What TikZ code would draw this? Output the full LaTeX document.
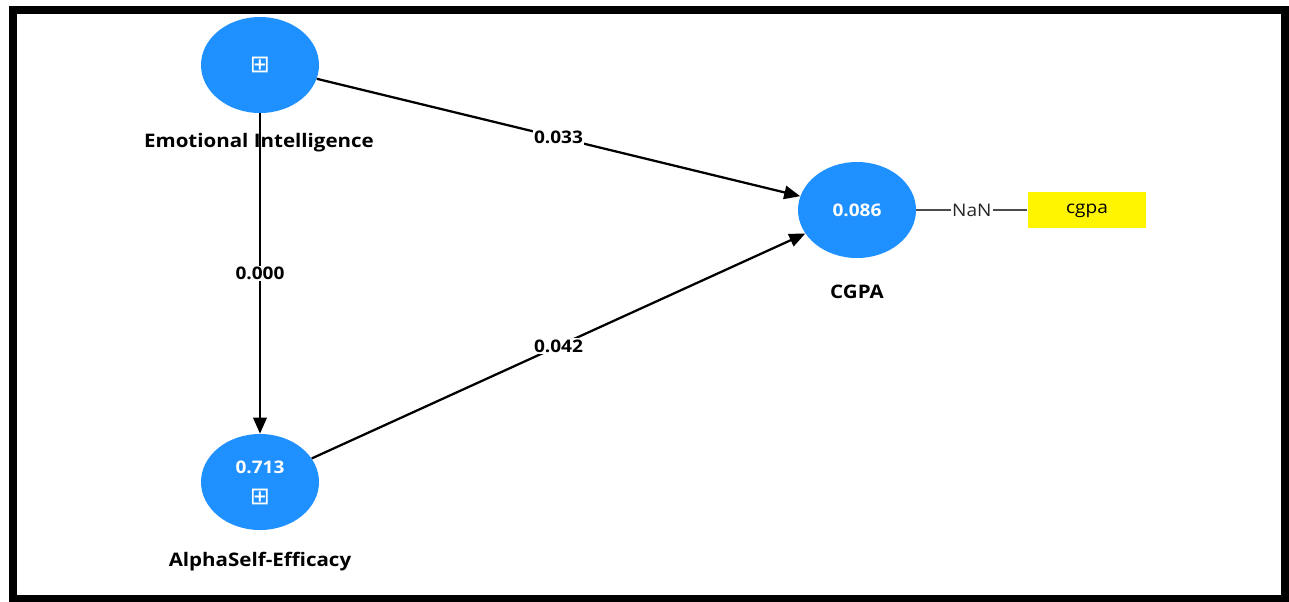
\documentclass[tikz,border=0pt]{standalone}
\usepackage{fontspec}
\setmainfont{Open Sans}[FakeStretch=1.1]
\newfontfamily\symfont{DejaVu Sans}
\usetikzlibrary{arrows.meta,shapes.geometric,positioning}
\definecolor{lvblue}{HTML}{1E90FF}
\definecolor{mvyellow}{HTML}{FFF500}
\begin{document}
\begin{tikzpicture}[x=0.75pt,y=-0.75pt,
	latent/.style={ellipse,fill=lvblue,minimum width=88.5pt,minimum height=72pt,inner sep=0pt,text=white,font=\bfseries\fontsize{13}{15}\selectfont},
	icon/.style={text=white,inner sep=0pt,font=\symfont\fontsize{18}{18}\selectfont},
	caption/.style={font=\bfseries\fontsize{14}{16}\selectfont},
	indicator/.style={fill=mvyellow,minimum width=89pt,minimum height=27pt,inner sep=0pt,text height=0.75em,text depth=0.2em,font=\fontsize{13}{15}\selectfont},
	arrowline/.style={line width=1.7pt,-{Triangle[length=12pt,width=10pt]}},
	weight/.style={fill=white,inner sep=1pt,font=\bfseries\fontsize{13}{15}\selectfont},
	nanlabel/.style={fill=white,inner sep=1pt,text=black!85,font=\fontsize{13}{15}\selectfont}]
	\useasboundingbox (0,0) rectangle (1289,601);
	\draw[line width=6pt] (13,10) rectangle (1285,599); % cadre
	
	% variables latentes
	\node[latent] (ei) at (260,65) {};
	\node[icon] (eiicon) at (260,65) {⊞};
	\node[latent] (ase) at (260,482) {};
	\node[latent,minimum size=0pt,fill=none] (asev) at (260,467) {0.713};
	\node[icon] (aseicon) at (260,497) {⊞};
	\node[latent] (cgpa) at (857,210) {0.086};
	\node[caption] (eil) at (259,143) {Emotional Intelligence};
	\node[caption] (asel) at (260,562) {AlphaSelf-Efficacy};
	\node[caption] (cgpal) at (857,292) {CGPA};
	
	% indicateur
	\node[indicator] (ind) at (1087,210) {cgpa};
	
	\draw[arrowline] (ei) -- node[weight] {0.033} (cgpa);
	\draw[arrowline] (ei) -- node[weight] {0.000} (ase);
	\draw[arrowline] (ase) -- node[weight] {0.042} (cgpa);
	\draw[line width=0.9pt,black!70] (cgpa) -- node[nanlabel] {NaN} (ind);
\end{tikzpicture}
\end{document}
